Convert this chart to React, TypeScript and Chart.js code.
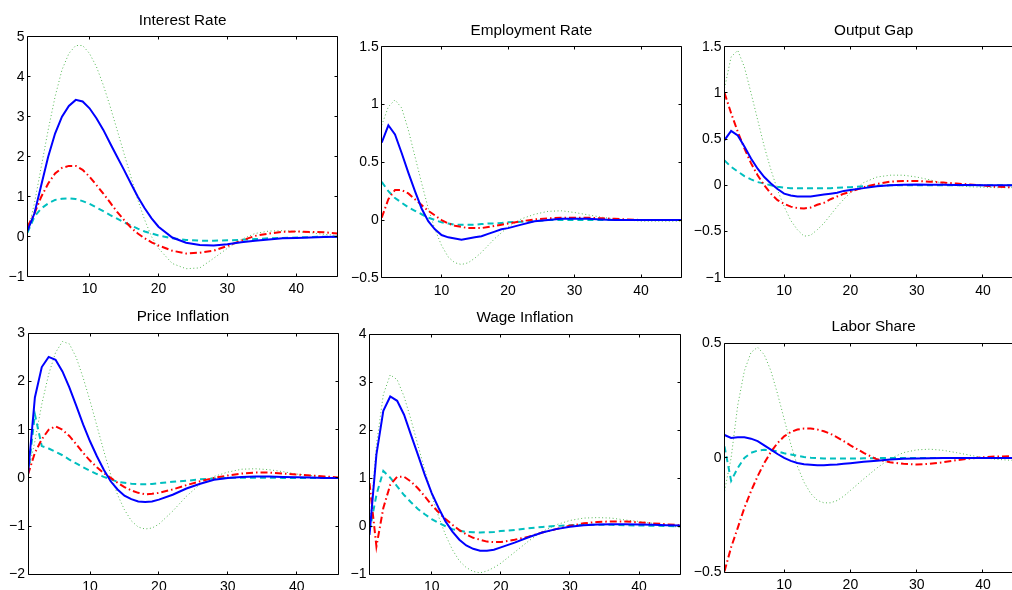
import React, { useEffect, useRef } from 'react';
import { Chart, registerables } from 'chart.js';

Chart.register(...registerables);

// ---- data ----
const periods = [1, 2, 3, 4, 5, 6, 7, 8, 9, 10, 11, 12, 13, 14, 15, 16, 17, 18, 19, 20, 22, 24, 26, 28, 30, 32, 34, 36, 38, 40, 42, 44, 46];
const xTicks = [10, 20, 30, 40];

const titles = ['Interest Rate', 'Employment Rate', 'Output Gap', 'Price Inflation', 'Wage Inflation', 'Labor Share'];

const interestTicks = [-1, 0, 1, 2, 3, 4, 5];
const interestBlue = [0.15, 0.58, 1.29, 2.0, 2.58, 3.0, 3.27, 3.42, 3.38, 3.21, 2.96, 2.67, 2.33, 2.0, 1.67, 1.33, 1.0, 0.71, 0.46, 0.25, -0.02, -0.15, -0.21, -0.22, -0.19, -0.14, -0.1, -0.07, -0.04, -0.03, -0.02, -0.01, 0.0];
const interestGreen = [0.1, 0.83, 1.75, 2.67, 3.5, 4.17, 4.58, 4.78, 4.78, 4.58, 4.25, 3.79, 3.25, 2.67, 2.08, 1.5, 0.92, 0.42, 0.0, -0.29, -0.67, -0.8, -0.78, -0.54, -0.29, -0.07, 0.08, 0.14, 0.15, 0.13, 0.1, 0.06, 0.03];
const interestRed = [0.25, 0.58, 1.0, 1.33, 1.58, 1.72, 1.77, 1.77, 1.67, 1.5, 1.29, 1.08, 0.85, 0.62, 0.42, 0.23, 0.08, -0.04, -0.14, -0.22, -0.35, -0.42, -0.4, -0.35, -0.23, -0.1, 0.02, 0.08, 0.12, 0.13, 0.12, 0.11, 0.08];
const interestCyan = [0.1, 0.5, 0.71, 0.83, 0.92, 0.95, 0.96, 0.94, 0.89, 0.82, 0.73, 0.64, 0.54, 0.45, 0.36, 0.28, 0.2, 0.13, 0.08, 0.03, -0.04, -0.08, -0.1, -0.1, -0.09, -0.08, -0.06, -0.04, -0.03, -0.02, -0.01, 0, 0];

const employmentTicks = [-0.5, 0, 0.5, 1, 1.5];
const employmentBlue = [0.67, 0.82, 0.74, 0.58, 0.41, 0.25, 0.1, -0.01, -0.08, -0.13, -0.15, -0.16, -0.17, -0.16, -0.15, -0.14, -0.12, -0.1, -0.08, -0.07, -0.04, -0.01, 0.0, 0.01, 0.01, 0.01, 0.005, 0, 0, 0, 0, 0, 0];
const employmentGreen = [0.82, 0.98, 1.04, 0.97, 0.78, 0.55, 0.32, 0.1, -0.08, -0.22, -0.32, -0.37, -0.385, -0.37, -0.33, -0.28, -0.22, -0.16, -0.11, -0.06, 0.01, 0.05, 0.075, 0.08, 0.065, 0.045, 0.025, 0.01, 0, -0.01, -0.01, -0.01, -0.01];
const employmentRed = [0.02, 0.18, 0.26, 0.26, 0.23, 0.18, 0.13, 0.08, 0.04, 0.0, -0.03, -0.05, -0.06, -0.07, -0.07, -0.07, -0.06, -0.05, -0.04, -0.03, -0.01, 0.005, 0.015, 0.02, 0.02, 0.02, 0.015, 0.01, 0.005, 0, 0, 0, 0];
const employmentCyan = [0.33, 0.25, 0.19, 0.15, 0.11, 0.08, 0.05, 0.02, 0.0, -0.02, -0.03, -0.04, -0.04, -0.04, -0.04, -0.035, -0.03, -0.03, -0.025, -0.02, -0.015, -0.01, 0, 0, 0, 0, 0, 0, 0, 0, 0, 0, 0];

const outputTicks = [-1, -0.5, 0, 0.5, 1, 1.5];
const outputBlue = [0.49, 0.59, 0.54, 0.42, 0.29, 0.18, 0.09, 0.02, -0.04, -0.09, -0.11, -0.12, -0.12, -0.12, -0.11, -0.1, -0.09, -0.08, -0.06, -0.05, -0.03, -0.01, 0, 0.007, 0.01, 0.007, 0.007, 0.005, 0.003, 0, 0, 0, 0];
const outputGreen = [1.05, 1.39, 1.46, 1.28, 1.0, 0.71, 0.42, 0.17, -0.05, -0.23, -0.38, -0.48, -0.55, -0.54, -0.48, -0.41, -0.32, -0.23, -0.15, -0.08, 0.03, 0.09, 0.11, 0.11, 0.09, 0.06, 0.02, 0.0, -0.015, -0.02, -0.025, -0.025, -0.02];
const outputRed = [1.0, 0.78, 0.58, 0.4, 0.24, 0.11, 0.0, -0.09, -0.16, -0.2, -0.23, -0.245, -0.25, -0.24, -0.21, -0.19, -0.15, -0.12, -0.09, -0.07, -0.02, 0.015, 0.04, 0.047, 0.047, 0.04, 0.03, 0.02, 0.01, 0.0, -0.015, -0.02, -0.025];
const outputCyan = [0.27, 0.2, 0.15, 0.1, 0.065, 0.035, 0.02, 0, -0.015, -0.025, -0.03, -0.03, -0.03, -0.03, -0.03, -0.03, -0.03, -0.025, -0.022, -0.02, -0.01, -0.005, 0, 0, 0, 0, 0, 0, 0, 0, 0, 0, 0];

const priceTicks = [-2, -1, 0, 1, 2, 3];
const priceBlue = [0.07, 1.67, 2.3, 2.51, 2.45, 2.21, 1.88, 1.5, 1.11, 0.76, 0.45, 0.17, -0.07, -0.24, -0.37, -0.44, -0.49, -0.5, -0.49, -0.45, -0.35, -0.22, -0.12, -0.04, 0.0, 0.02, 0.03, 0.03, 0.02, 0.015, 0.01, 0, 0];
const priceGreen = [0.1, 0.76, 1.53, 2.15, 2.6, 2.83, 2.78, 2.5, 2.08, 1.6, 1.08, 0.56, 0.07, -0.35, -0.66, -0.89, -1.02, -1.06, -1.04, -0.96, -0.69, -0.38, -0.13, 0.03, 0.12, 0.18, 0.19, 0.17, 0.13, 0.08, 0.05, 0.02, 0];
const priceRed = [0.07, 0.52, 0.8, 1.0, 1.07, 1.0, 0.87, 0.7, 0.52, 0.36, 0.22, 0.1, 0.0, -0.1, -0.19, -0.26, -0.31, -0.34, -0.33, -0.31, -0.24, -0.15, -0.07, 0, 0.05, 0.09, 0.11, 0.11, 0.09, 0.07, 0.05, 0.03, 0.01];
const priceCyan = [0.07, 1.32, 0.66, 0.61, 0.54, 0.47, 0.38, 0.3, 0.22, 0.15, 0.08, 0.02, -0.03, -0.08, -0.1, -0.12, -0.13, -0.13, -0.125, -0.11, -0.08, -0.06, -0.03, -0.015, 0, 0.005, 0.005, 0.005, 0, 0, 0, 0, 0];

const wageTicks = [-1, 0, 1, 2, 3, 4];
const wageBlue = [-0.18, 1.49, 2.4, 2.7, 2.61, 2.32, 1.9, 1.49, 1.07, 0.69, 0.38, 0.1, -0.11, -0.28, -0.4, -0.47, -0.51, -0.51, -0.49, -0.44, -0.34, -0.23, -0.13, -0.06, -0.01, 0.02, 0.035, 0.04, 0.04, 0.035, 0.03, 0.02, 0.015];
const wageGreen = [-0.04, 1.69, 2.74, 3.15, 3.05, 2.7, 2.22, 1.69, 1.17, 0.65, 0.2, -0.18, -0.49, -0.72, -0.86, -0.94, -0.97, -0.93, -0.86, -0.77, -0.54, -0.31, -0.11, 0.03, 0.12, 0.17, 0.18, 0.17, 0.13, 0.1, 0.06, 0.01, -0.02];
const wageRed = [0.9, -0.42, 0.38, 0.86, 1.03, 1.03, 0.93, 0.79, 0.62, 0.44, 0.29, 0.15, 0.03, -0.08, -0.17, -0.24, -0.28, -0.32, -0.33, -0.33, -0.28, -0.22, -0.13, -0.06, 0.01, 0.06, 0.09, 0.1, 0.1, 0.08, 0.06, 0.04, 0.02];
const wageCyan = [-0.1, 0.65, 1.15, 1.01, 0.83, 0.65, 0.5, 0.36, 0.25, 0.15, 0.07, 0.0, -0.06, -0.09, -0.12, -0.125, -0.13, -0.125, -0.12, -0.1, -0.08, -0.04, -0.015, 0.005, 0.02, 0.03, 0.03, 0.03, 0.02, 0.015, 0.01, 0.005, 0];

const laborTicks = [-0.5, 0, 0.5];
const laborBlue = [0.1, 0.087, 0.09, 0.09, 0.084, 0.073, 0.055, 0.036, 0.017, 0.0, -0.013, -0.022, -0.028, -0.03, -0.032, -0.032, -0.03, -0.029, -0.026, -0.023, -0.017, -0.012, -0.007, -0.004, -0.003, -0.001, 0, 0, 0, 0, 0, 0, 0];
const laborGreen = [-0.145, 0.0, 0.23, 0.38, 0.46, 0.483, 0.45, 0.38, 0.28, 0.17, 0.06, -0.036, -0.106, -0.155, -0.185, -0.196, -0.196, -0.186, -0.167, -0.142, -0.092, -0.044, -0.003, 0.023, 0.035, 0.038, 0.033, 0.023, 0.012, 0.001, -0.006, -0.01, -0.012];
const laborRed = [-0.495, -0.39, -0.305, -0.218, -0.145, -0.08, -0.022, 0.026, 0.065, 0.094, 0.113, 0.124, 0.128, 0.128, 0.124, 0.116, 0.105, 0.09, 0.073, 0.055, 0.022, -0.006, -0.019, -0.026, -0.029, -0.026, -0.019, -0.01, -0.003, 0.003, 0.006, 0.007, 0.007];
const laborCyan = [0.05, -0.1, -0.044, 0.0, 0.022, 0.032, 0.035, 0.033, 0.028, 0.02, 0.015, 0.009, 0.004, 0.001, -0.001, -0.003, -0.003, -0.003, -0.003, -0.003, -0.002, -0.001, 0, 0, 0, 0, 0, 0, 0, 0, 0, 0, 0];

// ---- layout (plot-area rectangles in page pixels) ----
const CW = 1040;
const CH = 600;
const Y_AXIS_W = 40;
const X_AXIS_H = 24;
const FONT = '"Liberation Sans", Arial, Helvetica, sans-serif';

const panels = [
  { title: titles[0], ticks: interestTicks, blue: interestBlue, red: interestRed, cyan: interestCyan, green: interestGreen, rect: { l: 27.5, r: 337.7, t: 36.7, b: 276.7 } },
  { title: titles[1], ticks: employmentTicks, blue: employmentBlue, red: employmentRed, cyan: employmentCyan, green: employmentGreen, rect: { l: 381.7, r: 681, t: 46.7, b: 277.8 } },
  { title: titles[2], ticks: outputTicks, blue: outputBlue, red: outputRed, cyan: outputCyan, green: outputGreen, rect: { l: 724.5, r: 1022.7, t: 46.7, b: 277.8 } },
  { title: titles[3], ticks: priceTicks, blue: priceBlue, red: priceRed, cyan: priceCyan, green: priceGreen, rect: { l: 28, r: 338, t: 333.3, b: 574.3 } },
  { title: titles[4], ticks: wageTicks, blue: wageBlue, red: wageRed, cyan: wageCyan, green: wageGreen, rect: { l: 369.5, r: 680.5, t: 334, b: 574.3 } },
  { title: titles[5], ticks: laborTicks, blue: laborBlue, red: laborRed, cyan: laborCyan, green: laborGreen, rect: { l: 724.5, r: 1022.7, t: 343.3, b: 572.5 } },
];

const fmt = (v: number) => (v < 0 ? '\u2212' + String(Math.abs(v)) : String(v));

const matlabFrame = {
  id: 'matlabFrame',
  afterDraw(chart: any, _args: any, opts: any) {
    const { ctx, chartArea: a, scales } = chart;
    const px = (v: number) => Math.floor(v) + 0.5;
    const L = px(a.left), R = px(a.right), T = px(a.top), B = px(a.bottom);
    ctx.save();
    ctx.strokeStyle = '#000';
    ctx.lineWidth = 1;
    ctx.beginPath();
    ctx.rect(L, T, R - L, B - T);
    const tl = 3;
    scales.x.ticks.forEach((t: any) => {
      const x = px(scales.x.getPixelForValue(t.value));
      ctx.moveTo(x, B); ctx.lineTo(x, B - tl);
      ctx.moveTo(x, T); ctx.lineTo(x, T + tl);
    });
    scales.y.ticks.forEach((t: any) => {
      const y = px(scales.y.getPixelForValue(t.value));
      ctx.moveTo(L, y); ctx.lineTo(L + tl, y);
      ctx.moveTo(R, y); ctx.lineTo(R - tl, y);
    });
    ctx.stroke();
    ctx.fillStyle = '#000';
    ctx.font = '15.3px ' + FONT;
    ctx.textAlign = 'center';
    ctx.textBaseline = 'alphabetic';
    ctx.fillText(opts.text, (a.left + a.right) / 2, a.top - 12);
    ctx.restore();
  },
};

function Panel({ p }: { p: (typeof panels)[number] }) {
  const ref = useRef<HTMLCanvasElement | null>(null);
  useEffect(() => {
    if (!ref.current) return;
    const toPts = (arr: number[]) => periods.map((x, i) => ({ x, y: arr[i] }));
    const ymin = p.ticks[0];
    const ymax = p.ticks[p.ticks.length - 1];
    const chart = new Chart(ref.current, {
      type: 'line',
      data: {
        datasets: [
          { label: 'blue', data: toPts(p.blue), borderColor: '#0000ff', borderWidth: 2, pointRadius: 0, tension: 0 },
          { label: 'red', data: toPts(p.red), borderColor: '#ff0000', borderWidth: 2, borderDash: [7, 3, 1.5, 3], pointRadius: 0, tension: 0 },
          { label: 'cyan', data: toPts(p.cyan), borderColor: '#00bfbf', borderWidth: 2, borderDash: [6, 4], pointRadius: 0, tension: 0 },
          { label: 'green', data: toPts(p.green), borderColor: '#55b855', borderWidth: 1, borderDash: [1, 2.5], pointRadius: 0, tension: 0 },
        ],
      },
      options: {
        animation: false,
        responsive: false,
        devicePixelRatio: 1,
        events: [],
        layout: {
          padding: {
            left: p.rect.l - Y_AXIS_W,
            right: CW - p.rect.r,
            top: p.rect.t,
            bottom: CH - p.rect.b - X_AXIS_H,
          },
        },
        plugins: {
          legend: { display: false },
          tooltip: { enabled: false },
          title: { display: false },
          matlabFrame: { text: p.title },
        } as any,
        scales: {
          x: {
            type: 'linear',
            min: 1,
            max: 46,
            grid: { display: false, drawTicks: false },
            border: { display: false },
            afterBuildTicks: (s: any) => { s.ticks = xTicks.map((v) => ({ value: v })); },
            afterFit: (s: any) => { s.height = X_AXIS_H; },
            ticks: { color: '#000', padding: 4.5, maxRotation: 0, font: { family: FONT, size: 14 }, callback: (v: any) => fmt(Number(v)) },
          },
          y: {
            type: 'linear',
            min: ymin,
            max: ymax,
            grid: { display: false, drawTicks: false },
            border: { display: false },
            afterBuildTicks: (s: any) => { s.ticks = p.ticks.map((v) => ({ value: v })); },
            afterFit: (s: any) => { s.width = Y_AXIS_W; },
            ticks: { color: '#000', padding: 3, font: { family: FONT, size: 14 }, callback: (v: any) => fmt(Number(v)) },
          },
        },
      },
      plugins: [matlabFrame],
    });
    return () => chart.destroy();
  }, [p]);
  return (
    <canvas
      ref={ref}
      width={CW}
      height={CH}
      style={{ position: 'absolute', left: 0, top: 0, width: CW, height: CH }}
    />
  );
}

export default function App() {
  return (
    <div style={{ position: 'absolute', left: 0, top: 0, width: 1012, height: 590, overflow: 'hidden', background: '#fff' }}>
      {panels.map((p, i) => (
        <Panel key={i} p={p} />
      ))}
    </div>
  );
}
